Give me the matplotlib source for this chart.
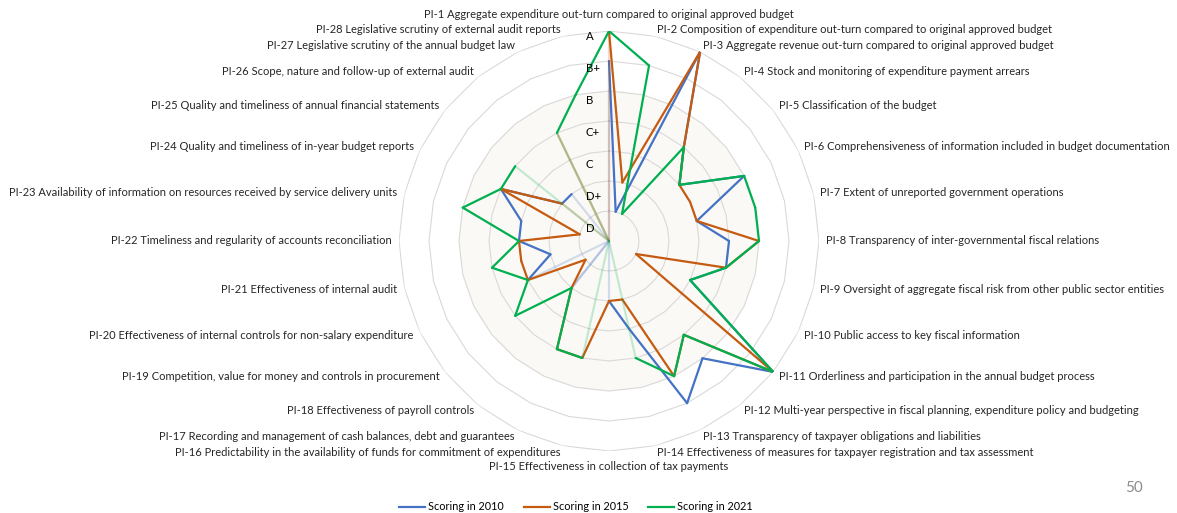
import numpy as np
import matplotlib
matplotlib.use("Agg")
import matplotlib.pyplot as plt
from matplotlib.lines import Line2D

# PEFA performance indicators, clockwise from the top
indicators = [
    "PI-1 Aggregate expenditure out-turn compared to original approved budget",
    "PI-2 Composition of expenditure out-turn compared to original approved budget",
    "PI-3 Aggregate revenue out-turn compared to original approved budget",
    "PI-4 Stock and monitoring of expenditure payment arrears",
    "PI-5 Classification of the budget",
    "PI-6 Comprehensiveness of information included in budget documentation",
    "PI-7 Extent of unreported government operations",
    "PI-8 Transparency of inter-governmental fiscal relations",
    "PI-9 Oversight of aggregate fiscal risk from other public sector entities",
    "PI-10 Public access to key fiscal information",
    "PI-11 Orderliness and participation in the annual budget process",
    "PI-12 Multi-year perspective in fiscal planning, expenditure policy and budgeting",
    "PI-13 Transparency of taxpayer obligations and liabilities",
    "PI-14 Effectiveness of measures for taxpayer registration and tax assessment",
    "PI-15 Effectiveness in collection of tax payments",
    "PI-16 Predictability in the availability of funds for commitment of expenditures",
    "PI-17 Recording and management of cash balances, debt and guarantees",
    "PI-18 Effectiveness of payroll controls",
    "PI-19 Competition, value for money and controls in procurement",
    "PI-20 Effectiveness of internal controls for non-salary expenditure",
    "PI-21 Effectiveness of internal audit",
    "PI-22 Timeliness and regularity of accounts reconciliation",
    "PI-23 Availability of information on resources received by service delivery units",
    "PI-24 Quality and timeliness of in-year budget reports",
    "PI-25 Quality and timeliness of annual financial statements",
    "PI-26 Scope, nature and follow-up of external audit",
    "PI-27 Legislative scrutiny of the annual budget law",
    "PI-28 Legislative scrutiny of external audit reports",
]

# Grade scale: D=1 ... A=7, 0 = not rated
grades = ["D", "D+", "C", "C+", "B", "B+", "A"]

score_2010 = [6, 1, 7, 4, 3, 5, 3, 4, 4, 3, 7, 5, 6, 3, 2, 0, 0, 2, 0, 3, 2, 3, 3, 4, 2, 2, 0, 0]
score_2015 = [7, 2, 7, 4, 3, 3, 3, 5, 4, 1, 7, 4, 5, 2, 2, 4, 4, 2, 1, 3, 3, 3, 1, 4, 2, 0, 4, 0]
score_2021 = [7, 6, 1, 4, 3, 5, 5, 5, 4, 3, 7, 4, 5, 4, 0, 4, 4, 2, 4, 3, 4, 3, 5, 4, 4, 0, 4, 5]

series_names = ["Scoring in 2010", "Scoring in 2015", "Scoring in 2021"]
series_colors = ["#4472C4", "#C55A11", "#00B050"]

W, H = 1177, 513
fig = plt.figure(figsize=(W / 100, H / 100), dpi=100)
fig.patch.set_facecolor("white")

cx, cy, rad = 609, 241, 210
ax = fig.add_axes([(cx - rad) / W, (H - cy - rad) / H, 2 * rad / W, 2 * rad / H],
                  projection="polar")
ax.set_theta_zero_location("N")
ax.set_theta_direction(-1)
ax.set_ylim(0, 7)
ax.set_xticks([])
ax.set_yticks([])
ax.grid(False)
ax.spines["polar"].set_visible(False)
ax.patch.set_alpha(0)

n = len(indicators)
theta = np.arange(n) * 2 * np.pi / n

# faint warm tint behind the centre of the chart
tt = np.linspace(0, 2 * np.pi, 200)
ax.fill(tt, np.full_like(tt, 5.0), color="#f6f1e8", alpha=0.4, zorder=0, lw=0)

# polygon gridlines, one per grade
closed = np.append(theta, theta[0])
for lvl in range(1, len(grades) + 1):
    ax.plot(closed, np.full_like(closed, lvl), color="#d9d9d9", lw=0.8, zorder=1)

# series: segments touching an unrated indicator are drawn faint
for vals, col in zip([score_2010, score_2015, score_2021], series_colors):
    for i in range(n):
        j = (i + 1) % n
        a, b = vals[i], vals[j]
        faint = (a == 0) or (b == 0)
        ax.plot([theta[i], theta[j] if j else 2 * np.pi], [a, b], color=col,
                lw=1.6, alpha=0.22 if faint else 1.0, solid_capstyle="round",
                solid_joinstyle="miter", zorder=3)

# category labels around the chart
label_font = dict(family=["Lato", "DejaVu Sans"], fontsize=8.0, color="#262626")
for i, name in enumerate(indicators):
    ang = theta[i]
    deg = np.degrees(ang)
    if np.isclose(deg, 0):
        ax.text(ang, 7.37, name, ha="center", va="bottom", clip_on=False, **label_font)
    elif np.isclose(deg, 180):
        ax.text(ang, 7.33, name, ha="center", va="top", clip_on=False, **label_font)
    else:
        ax.text(ang, 7.23, name, ha="left" if deg < 180 else "right", va="center",
                clip_on=False, **label_font)

# grade labels up the vertical axis
grade_y = [229, 197, 165, 133, 101, 69, 37]
for g, y in zip(grades, grade_y):
    fig.text(586 / W, 1 - y / H, g, ha="left", va="center", fontsize=8.2,
             family=["Lato", "DejaVu Sans"], color="#000000")

# legend
handles = [Line2D([0], [0], color=c, lw=1.6) for c in series_colors]
fig.legend(handles, series_names, loc="center", bbox_to_anchor=(576 / W, 1 - 507 / H),
           ncol=3, frameon=False, prop=dict(family="Lato", size=7.8),
           handlelength=2.4, handletextpad=0.3, columnspacing=1.8)

# slide number
fig.text(1134 / W, 1 - 488 / H, "50", ha="center", va="center", fontsize=11,
         color="#8c8c8c", family=["Lato", "DejaVu Sans"])

fig.savefig("out.png", dpi=100, facecolor="white")
